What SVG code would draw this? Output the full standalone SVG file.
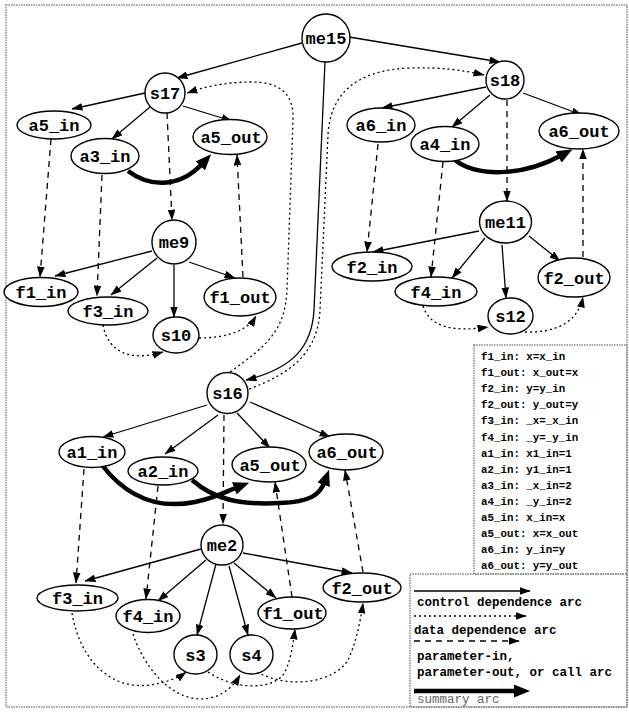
<svg xmlns="http://www.w3.org/2000/svg" width="629" height="713" viewBox="0 0 629 713">
<style>
.n{fill:#fff;stroke:#000;stroke-width:1.4}
.t{font-family:"Liberation Mono","Courier New",monospace;font-weight:bold;font-size:17px;text-anchor:middle;fill:#000}
.lt{font-family:"Liberation Mono","Courier New",monospace;font-weight:bold;font-size:12.5px;fill:#000}
.lp{font-family:"Liberation Mono","Courier New",monospace;font-weight:bold;font-size:10.8px;fill:#000}
.c{fill:none;stroke:#000;stroke-width:1.3;marker-end:url(#ah)}
.d{fill:none;stroke:#000;stroke-width:1.3;stroke-dasharray:2,3;marker-end:url(#ah)}
.p{fill:none;stroke:#000;stroke-width:1.3;stroke-dasharray:6,5;marker-end:url(#ah)}
.s{fill:none;stroke:#000;stroke-width:4.5;marker-end:url(#sh)}
.box{fill:none;stroke:#888;stroke-width:1.5;stroke-dasharray:1.5,1}
</style>
<defs>
<marker id="ah" viewBox="0 0 10 7" refX="9.5" refY="3.5" markerWidth="11" markerHeight="7.7" markerUnits="userSpaceOnUse" orient="auto"><path d="M0,0 L10,3.5 L0,7 z" fill="#000"/></marker>
<marker id="sh" viewBox="0 0 16 13" refX="4" refY="6.5" markerWidth="16" markerHeight="13" markerUnits="userSpaceOnUse" orient="auto"><path d="M0,0 L16,6.5 L0,13 z" fill="#000"/></marker>
</defs>
<rect class="box" x="6" y="5" width="621" height="702"/>
<g id="connectors">
<!-- control -->
<path class="c" d="M302,43 L177,78"/>
<path class="c" d="M349,37 L500,62"/>
<path class="c" d="M325,62 L314,310 C312,345 295,368 246,380"/>
<path class="c" d="M145,93 L72,109"/>
<path class="c" d="M150,107 L112,139"/>
<path class="c" d="M183,106 L232,121"/>
<path class="c" d="M486,87 L382,108"/>
<path class="c" d="M490,95 L452,127"/>
<path class="c" d="M523,93 L582,115"/>
<path class="c" d="M152,251 L55,276"/>
<path class="c" d="M157,258 L111,295"/>
<path class="c" d="M174,265 L174,317"/>
<path class="c" d="M189,262 L235,278"/>
<path class="c" d="M479,231 L373,252"/>
<path class="c" d="M485,238 L452,278"/>
<path class="c" d="M502,245 L506,298"/>
<path class="c" d="M529,236 L560,261"/>
<path class="c" d="M207,405 L103,437"/>
<path class="c" d="M218,415 L165,454"/>
<path class="c" d="M237,413 L270,448"/>
<path class="c" d="M250,402 L330,437"/>
<path class="c" d="M201,549 L85,581"/>
<path class="c" d="M206,560 L158,601"/>
<path class="c" d="M216,564 L197,635"/>
<path class="c" d="M229,566 L248,635"/>
<path class="c" d="M234,563 L276,598"/>
<path class="c" d="M243,553 L352,573"/>
<!-- parameter / call -->
<path class="p" d="M167,113 L172,220"/>
<path class="p" d="M51,139 L40,277"/>
<path class="p" d="M102,175 L97,296"/>
<path class="p" d="M243,277 L237,155"/>
<path class="p" d="M507,100 L507,201"/>
<path class="p" d="M378,144 L367,252"/>
<path class="p" d="M443,162 L431,277"/>
<path class="p" d="M583,257 L583,149"/>
<path class="p" d="M224,415 L223,524"/>
<path class="p" d="M84,469 L76,583"/>
<path class="p" d="M158,486 L146,599"/>
<path class="p" d="M292,597 L275,482"/>
<path class="p" d="M363,572 L345,470"/>
<!-- data -->
<path class="d" d="M103,325 C108,352 130,362 163,352"/>
<path class="d" d="M199,338 C228,338 248,330 256,316"/>
<path class="d" d="M423,306 C430,328 455,332 488,327"/>
<path class="d" d="M525,332 C556,333 578,322 583,297"/>
<path class="d" d="M230,372 C268,345 285,330 287,290 L293,120 C294,92 278,82 252,82 C222,82 202,88 187,93"/>
<path class="d" d="M249,389 C295,372 318,350 320,310 L328,135 C330,95 355,70 410,68 C440,67 462,70 484,75"/>
<path class="d" d="M72,613 C80,660 110,690 150,685 C165,683 178,678 186,672"/>
<path class="d" d="M133,634 C145,670 175,705 210,698 C225,695 235,684 240,675"/>
<path class="d" d="M208,672 C235,690 270,690 283,675 C290,665 293,645 295,629"/>
<path class="d" d="M257,672 C290,690 335,682 348,660 C355,645 360,625 363,603"/>
<!-- summary -->
<path class="s" d="M128,171 C148,186 178,190 203,163"/>
<path class="s" d="M455,160 C475,176 520,178 562,155"/>
<path class="s" d="M102,465 C125,495 155,510 195,502 C215,498 225,492 238,487"/>
<path class="s" d="M192,480 C215,500 240,505 280,503 C310,502 320,495 325,481"/>
</g>
<g id="me15"><circle class="n" cx="326" cy="38" r="24"/><text class="t" x="326" y="44">me15</text></g>
<g id="s17"><circle class="n" cx="165" cy="93" r="20"/><text class="t" x="165" y="99">s17</text></g>
<g id="s18"><circle class="n" cx="505" cy="80" r="19"/><text class="t" x="505" y="86">s18</text></g>
<g id="a5_in"><ellipse class="n" cx="54" cy="125" rx="37" ry="14"/><text class="t" x="54" y="131">a5_in</text></g>
<g id="a3_in"><ellipse class="n" cx="105" cy="156" rx="34" ry="17.5"/><text class="t" x="105" y="162">a3_in</text></g>
<g id="a5_out_top"><ellipse class="n" cx="230" cy="137" rx="37" ry="17.5"/><text class="t" x="231" y="143">a5_out</text></g>
<g id="me9"><circle class="n" cx="174" cy="242" r="22"/><text class="t" x="174" y="248">me9</text></g>
<g id="f1_in"><ellipse class="n" cx="41" cy="292" rx="37" ry="14.5"/><text class="t" x="41" y="298">f1_in</text></g>
<g id="f3_in_top"><ellipse class="n" cx="108" cy="311" rx="40" ry="14"/><text class="t" x="108" y="317">f3_in</text></g>
<g id="s10"><ellipse class="n" cx="176" cy="335" rx="23" ry="18"/><text class="t" x="176" y="341">s10</text></g>
<g id="f1_out_top"><ellipse class="n" cx="240" cy="297" rx="36" ry="19"/><text class="t" x="240" y="303">f1_out</text></g>
<g id="a6_in"><ellipse class="n" cx="381" cy="125" rx="34" ry="17"/><text class="t" x="381" y="131">a6_in</text></g>
<g id="a4_in"><ellipse class="n" cx="445" cy="144" rx="34" ry="17.5"/><text class="t" x="445" y="150">a4_in</text></g>
<g id="a6_out_top"><ellipse class="n" cx="579" cy="131" rx="40" ry="18"/><text class="t" x="579" y="137">a6_out</text></g>
<g id="me11"><ellipse class="n" cx="505.5" cy="222" rx="26" ry="21"/><text class="t" x="505.5" y="228">me11</text></g>
<g id="f2_in"><ellipse class="n" cx="372" cy="266.5" rx="40" ry="14.5"/><text class="t" x="372" y="272.5">f2_in</text></g>
<g id="f4_in_top"><ellipse class="n" cx="436" cy="291.5" rx="41" ry="14.5"/><text class="t" x="436" y="297.5">f4_in</text></g>
<g id="s12"><ellipse class="n" cx="510.5" cy="316" rx="22.5" ry="18"/><text class="t" x="510.5" y="322">s12</text></g>
<g id="f2_out_top"><ellipse class="n" cx="574" cy="277.5" rx="36" ry="19.5"/><text class="t" x="574" y="283.5">f2_out</text></g>
<g id="s16"><circle class="n" cx="227.5" cy="393" r="20.5"/><text class="t" x="227.5" y="399">s16</text></g>
<g id="a1_in"><ellipse class="n" cx="92" cy="452" rx="33" ry="15.5"/><text class="t" x="92" y="458">a1_in</text></g>
<g id="a2_in"><ellipse class="n" cx="163" cy="471" rx="35" ry="14"/><text class="t" x="163" y="477">a2_in</text></g>
<g id="a5_out_bot"><ellipse class="n" cx="269" cy="464.5" rx="37" ry="17.5"/><text class="t" x="270" y="470.5">a5_out</text></g>
<g id="a6_out_bot"><ellipse class="n" cx="346" cy="452" rx="37" ry="18"/><text class="t" x="347" y="458">a6_out</text></g>
<g id="me2"><ellipse class="n" cx="222" cy="545" rx="21" ry="20"/><text class="t" x="222" y="551">me2</text></g>
<g id="f3_in_bot"><ellipse class="n" cx="77.5" cy="598" rx="40.5" ry="13"/><text class="t" x="77.5" y="604">f3_in</text></g>
<g id="f4_in_bot"><ellipse class="n" cx="148" cy="616" rx="32" ry="16.5"/><text class="t" x="148" y="622">f4_in</text></g>
<g id="f1_out_bot"><ellipse class="n" cx="292" cy="613" rx="34" ry="16"/><text class="t" x="293" y="619">f1_out</text></g>
<g id="f2_out_bot"><ellipse class="n" cx="362" cy="587.5" rx="39" ry="14.5"/><text class="t" x="362" y="593.5">f2_out</text></g>
<g id="s3"><ellipse class="n" cx="195.5" cy="654.5" rx="21.5" ry="19.5"/><text class="t" x="195.5" y="660.5">s3</text></g>
<g id="s4"><ellipse class="n" cx="251.5" cy="654.5" rx="21.5" ry="19.5"/><text class="t" x="251.5" y="660.5">s4</text></g>
<g id="legend-params">
<rect class="box" x="474" y="345" width="153" height="229"/>
<text class="lp" x="481" y="360">f1_in: x=x_in</text>
<text class="lp" x="481" y="376">f1_out: x_out=x</text>
<text class="lp" x="481" y="392">f2_in: y=y_in</text>
<text class="lp" x="481" y="408">f2_out: y_out=y</text>
<text class="lp" x="481" y="424">f3_in: _x=_x_in</text>
<text class="lp" x="481" y="441">f4_in: _y=_y_in</text>
<text class="lp" x="481" y="457">a1_in: x1_in=1</text>
<text class="lp" x="481" y="473">a2_in: y1_in=1</text>
<text class="lp" x="481" y="489">a3_in: _x_in=2</text>
<text class="lp" x="481" y="505">a4_in: _y_in=2</text>
<text class="lp" x="481" y="521">a5_in: x_in=x</text>
<text class="lp" x="481" y="537">a5_out: x=x_out</text>
<text class="lp" x="481" y="553">a6_in: y_in=y</text>
<text class="lp" x="481" y="569">a6_out: y=y_out</text>
</g>
<g id="legend-arcs">
<rect class="box" x="410" y="574" width="217" height="133"/>
<path class="c" d="M414,591 L530,591"/>
<text class="lt" x="417" y="606">control dependence arc</text>
<path class="d" d="M414,616 L526,616"/>
<text class="lt" x="414" y="634">data dependence arc</text>
<path class="p" d="M414,641 L519,641"/>
<text class="lt" x="417" y="660">parameter-in,</text>
<text class="lt" x="417" y="676">parameter-out, or call arc</text>
<path class="s" d="M414,691 L518,691"/>
<text class="lt" x="417" y="703" style="font-weight:normal;fill:#666">summary arc</text>
</g>
</svg>
